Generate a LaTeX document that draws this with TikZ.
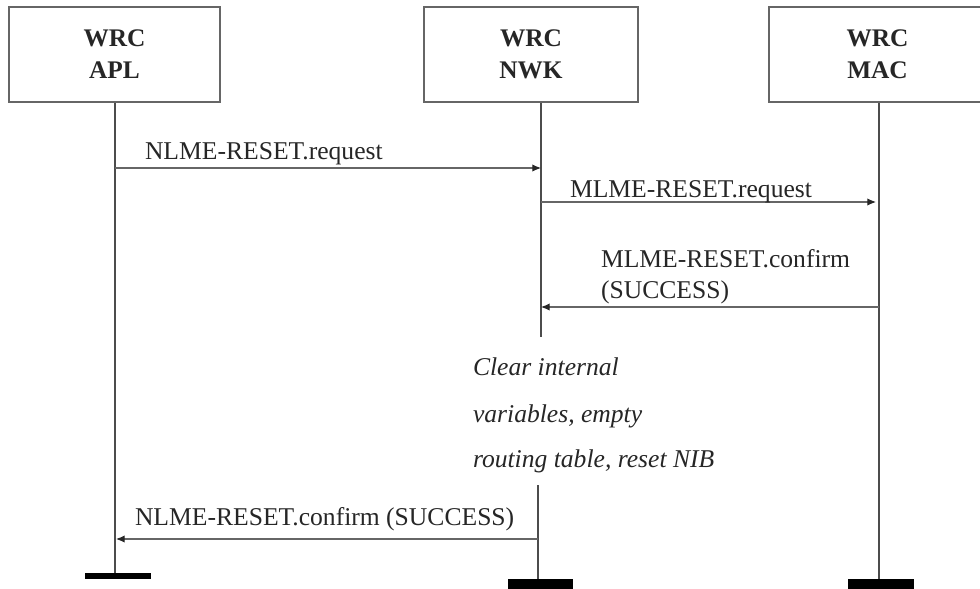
\documentclass[tikz,border=0pt]{standalone}
\usepackage{fontspec}
\setmainfont{Liberation Serif}
\usetikzlibrary{arrows.meta}
\tikzset{
  x=0.75pt, y=-0.75pt,
  every node/.style={font=\fontsize{19.2}{24}\selectfont, inner sep=0pt, outer sep=0pt},
  entity/.style={draw=black!60, line width=1.4pt, fill=white, align=center,
     font=\fontsize{19}{24}\selectfont\bfseries, text=black!85},
  life/.style={draw=black!70, line width=1.1pt},
  msg/.style={draw=black!60, line width=0.8pt, -{Latex[length=6.5pt,width=5.5pt,color=black!85]}},
  lbl/.style={anchor=base west, text=black!85},
  note/.style={anchor=base west, font=\fontsize{19.2}{24}\selectfont\itshape, text=black!85},
  endbar/.style={fill=black, draw=none, minimum height=4.5pt}
}
\begin{document}
\begin{tikzpicture}
\useasboundingbox (0,0) rectangle (980,588);
% entity boxes
\node[entity, minimum width=158.25pt, minimum height=71.25pt] (apl) at (114.5,54.5) {WRC\\APL};
\node[entity, minimum width=160.5pt, minimum height=71.25pt] (nwk) at (531,54.5) {WRC\\NWK};
\node[entity, minimum width=168pt, minimum height=71.25pt] (mac) at (881,54.5) {\hspace*{-5.25pt}WRC\\\hspace*{-5.25pt}MAC};
% end bars
\node[endbar, minimum width=49.5pt] (aplbar) at (118,575.5) {};
\node[endbar, minimum width=48.75pt, minimum height=8pt] (nwkbar) at (540.5,584) {};
\node[endbar, minimum width=49.5pt, minimum height=8pt] (macbar) at (881,584) {};
% lifeline coordinates
\coordinate (apltop) at (115,103);
\coordinate (aplbot) at (115,573);
\coordinate (nwktop) at (541,103);
\coordinate (nwkbrk) at (541,337);
\coordinate (nwkres) at (538,485);
\coordinate (nwkbot) at (538,579);
\coordinate (mactop) at (879,103);
\coordinate (macbot) at (879,579);
\draw[life] (apltop) -- (aplbot);
\draw[life] (nwktop) -- (nwkbrk);
\draw[life] (nwkres) -- (nwkbot);
\draw[life] (mactop) -- (macbot);
% message end points
\coordinate (m1s) at (115,168); \coordinate (m1e) at (541,168);
\coordinate (m2s) at (541,202); \coordinate (m2e) at (876,202);
\coordinate (m3s) at (879,307); \coordinate (m3e) at (541,307);
\coordinate (m4s) at (538,539); \coordinate (m4e) at (116,539);
\draw[msg] (m1s) -- (m1e);
\draw[msg] (m2s) -- (m2e);
\draw[msg] (m3s) -- (m3e);
\draw[msg] (m4s) -- (m4e);
% labels
\node[lbl] (l1) at (145,159) {NLME-RESET.request};
\node[lbl] (l2) at (570,197) {MLME-RESET.request};
\node[lbl] (l3a) at (601,267) {MLME-RESET.confirm};
\node[lbl] (l3b) at (601,298) {(SUCCESS)};
\node[note] (n1) at (473,375) {Clear internal};
\node[note] (n2) at (473,422) {variables, empty};
\node[note] (n3) at (473,467) {routing table, reset NIB};
\node[lbl] (l4) at (135,525) {NLME-RESET.confirm (SUCCESS)};
\end{tikzpicture}
\end{document}
